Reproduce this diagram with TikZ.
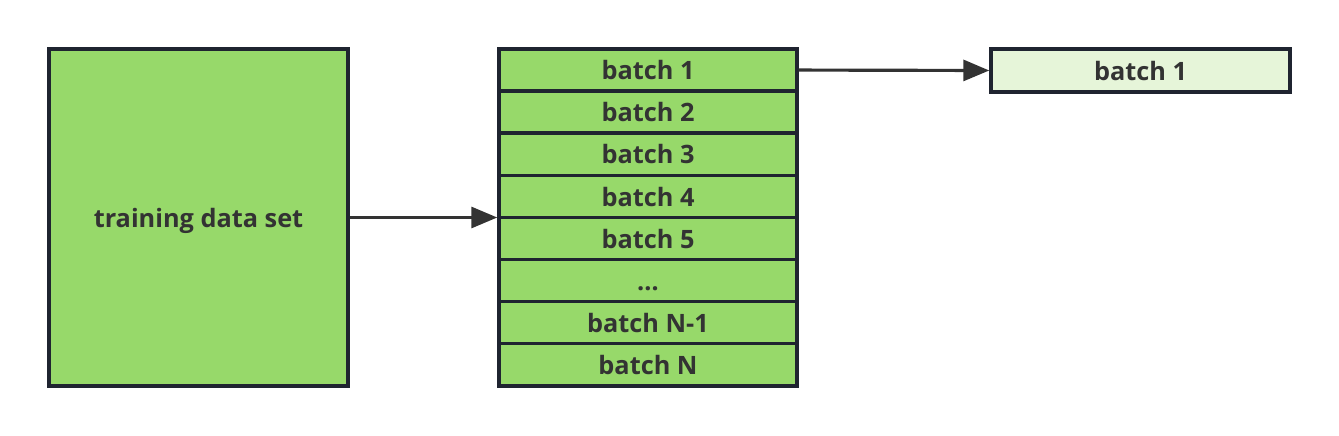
\documentclass[tikz,border=0pt]{standalone}
\usepackage{fontspec}
\setmainfont{Open Sans}
\usetikzlibrary{arrows.meta, positioning}
\definecolor{fillgreen}{HTML}{97D96A}
\definecolor{palegreen}{HTML}{E6F5D9}
\definecolor{edgedark}{HTML}{1F2430}
\definecolor{textdark}{HTML}{333333}

\begin{document}
\begin{tikzpicture}[x=0.02cm, y=-0.02cm,
    databox/.style={draw=edgedark, line width=2pt, fill=fillgreen, inner sep=0pt,
        text height=14pt, text depth=3pt,
        font=\fontsize{14.4}{16}\selectfont\bfseries, text=textdark},
    flow/.style={draw=textdark, line width=1.8pt, -{Triangle[length=0.52cm, width=0.42cm]}}]
    % canvas
    \useasboundingbox (0,0) rectangle (1339,436);

    % whole data set
    \node[databox, minimum width=5.98cm, minimum height=6.74cm] (dataset) at (198.5,217.5) {training data set};

    % batches
    \foreach \lbl [count=\i] in {batch 1, batch 2, batch 3, batch 4, batch 5, {\ldots}, batch N-1, batch N} {
        \node[databox, minimum width=5.96cm, minimum height=0.842cm] (b\i) at (648,{49+42.1*(\i-0.5)}) {\lbl};
    }

    % picked batch
    \node[databox, fill=palegreen, minimum width=5.98cm, minimum height=0.86cm] (pick) at (1140.5,70.5) {batch 1};

    % Connections
    \draw[flow] (dataset.east) -- (dataset.east -| b1.west);
    \draw[flow] (b1.east) -- (pick.west);
\end{tikzpicture}
\end{document}
